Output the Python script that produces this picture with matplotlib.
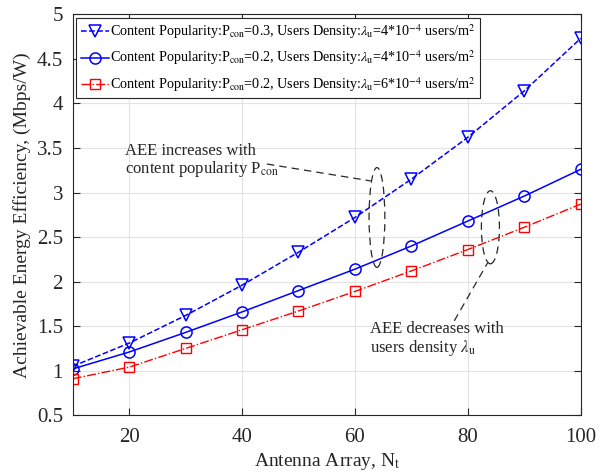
import matplotlib
matplotlib.use("Agg")
import matplotlib.pyplot as plt
from matplotlib.patches import Ellipse

plt.rcParams['font.family'] = ['Liberation Serif', 'DejaVu Serif']
plt.rcParams['mathtext.fontset'] = 'stix'

antennas = [10, 20, 30, 40, 50, 60, 70, 80, 90, 100]
aee_p03_l4 = [1.05, 1.31, 1.62, 1.96, 2.33, 2.72, 3.15, 3.62, 4.14, 4.73]
aee_p02_l4 = [1.02, 1.21, 1.43, 1.66, 1.90, 2.14, 2.40, 2.68, 2.96, 3.26]
aee_p02_l6 = [0.91, 1.04, 1.25, 1.46, 1.67, 1.89, 2.12, 2.36, 2.61, 2.87]

labels = [
    r"Content Popularity:P$_{\mathrm{con}}$=0.3, Users Density:$\lambda_{\mathrm{u}}$=4*10$^{-4}$ users/m$^{2}$",
    r"Content Popularity:P$_{\mathrm{con}}$=0.2, Users Density:$\lambda_{\mathrm{u}}$=4*10$^{-4}$ users/m$^{2}$",
    r"Content Popularity:P$_{\mathrm{con}}$=0.2, Users Density:$\lambda_{\mathrm{u}}$=6*10$^{-4}$ users/m$^{2}$",
]
xticks = [20, 40, 60, 80, 100]
yticks = [0.5, 1, 1.5, 2, 2.5, 3, 3.5, 4, 4.5, 5]
yticklabels = ["0.5", "1", "1.5", "2", "2.5", "3", "3.5", "4", "4.5", "5"]

fig = plt.figure(figsize=(6.1, 4.75), dpi=100)
ax = fig.add_axes([0.1192, 0.1257, 0.8328, 0.8442])

ax.plot(antennas, aee_p03_l4, color='#0000ff', ls='--', lw=1.1, marker='v',
        mfc='none', mec='#0000ff', ms=8, mew=1.1, label=labels[0])
ax.plot(antennas, aee_p02_l4, color='#0000ff', ls='-', lw=1.1, marker='o',
        mfc='none', mec='#0000ff', ms=8, mew=1.1, label=labels[1])
ax.plot(antennas, aee_p02_l6, color='#ff0000', ls='-.', lw=1.0, marker='s',
        mfc='none', mec='#ff0000', ms=6.5, mew=1.0, label=labels[2])

ax.set_xlim(10, 100)
ax.set_ylim(0.5, 5)
ax.set_xticks(xticks)
ax.set_yticks(yticks)
ax.set_yticklabels(yticklabels)
ax.tick_params(direction='in', top=True, right=True, labelsize=15, length=5,
               color='#262626', labelcolor='#262626')
ax.tick_params(axis='x', pad=9)
ax.tick_params(axis='y', pad=7)
ax.grid(True, color='#e3e3e3', lw=0.8)
ax.set_axisbelow(True)
for s in ax.spines.values():
    s.set_color('#262626')
    s.set_linewidth(0.8)

ax.set_xlabel(r"Antenna Array, N$_{\mathrm{t}}$", fontsize=14, labelpad=3, color='#262626')
ax.set_ylabel("Achievable Energy Efficiency, (Mbps/W)", fontsize=14, labelpad=4, color='#262626')

leg = ax.legend(loc='upper left', fontsize=10.2, frameon=True, fancybox=False,
                edgecolor='#262626', framealpha=1, handlelength=2.0,
                handletextpad=0.1, borderpad=0.3, labelspacing=0.55,
                borderaxespad=0.25)
leg.get_frame().set_linewidth(0.8)

ax.add_patch(Ellipse((63.9, 2.72), 2.8, 1.12, fill=False, ls=(0, (6, 4)), lw=0.9, color='#262626'))
ax.add_patch(Ellipse((84.0, 2.61), 3.2, 0.82, fill=False, ls=(0, (6, 4)), lw=0.9, color='#262626'))

ax.text(19.3, 3.56, "AEE increases with\ncontent popularity P$_{\\mathrm{con}}$",
        fontsize=12, va='top', ha='left', linespacing=1.05, color='#262626')
ax.plot([44.4, 62.8], [3.32, 3.13], color='#262626', ls=(0, (6, 4)), lw=0.9)

ax.text(62.7, 1.56, "AEE decreases with\nusers density $\\lambda_{\\mathrm{u}}$",
        fontsize=12, va='top', ha='left', linespacing=1.05, color='#262626')
ax.plot([77.6, 83.5], [1.56, 2.21], color='#262626', ls=(0, (6, 4)), lw=0.9)

fig.savefig("out.png", dpi=100)
